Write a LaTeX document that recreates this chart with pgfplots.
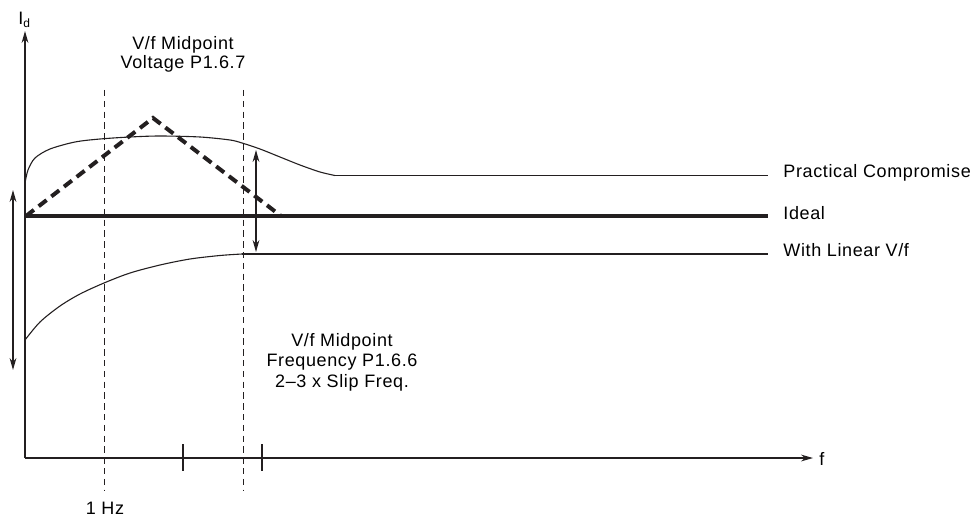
\documentclass[border=0pt]{standalone}
\usepackage{fontspec}
\setmainfont[LetterSpace=3.5]{Liberation Sans}
\usepackage{pgfplots}
\pgfplotsset{compat=1.18}
\usetikzlibrary{arrows.meta}
\definecolor{ink}{HTML}{231F20}
\begin{document}
\begin{tikzpicture}
\begin{axis}[hide axis, scale only axis, width=489pt, height=259pt,
  xmin=0, xmax=978, ymin=0, ymax=518, y dir=reverse, clip=false,
  every axis plot/.append style={color=ink},
  font=\fontsize{9}{10.3}\selectfont]
\draw[draw=none] (rel axis cs:0,0) rectangle (rel axis cs:1,1);
% axes
\addplot[line width=0.6pt, -{Stealth[length=6pt,width=3.4pt]}] coordinates {(25,458) (25,31)};
\addplot[line width=0.6pt, -{Stealth[length=6pt,width=3.4pt]}] coordinates {(25,458) (813,458)};
% ticks on x axis
\addplot[line width=0.6pt] coordinates {(183,444) (183,471)};
\addplot[line width=0.6pt] coordinates {(262,444) (262,471)};
% dashed verticals
\addplot[line width=0.5pt, dash pattern=on 3.2pt off 2.2pt] coordinates {(104,90) (104,491)};
\addplot[line width=0.5pt, dash pattern=on 3.2pt off 2.2pt] coordinates {(243,90) (243,491)};
% ideal
\addplot[line width=2.3pt] coordinates {(25,216) (768,216)};
% triangle (dashed)
\addplot[line width=2pt, dash pattern=on 5pt off 3pt] coordinates {(26,216) (153,118) (281,216)};
% practical compromise
\addplot[line width=0.55pt, smooth] coordinates {
(25,183) (28,170) (35,158) (50,149) (75,142) (100,139) (130,137) (160,136)
(200,137) (230,140) (242,143) (260,149) (280,157) (300,165) (320,172) (335,175.5)};
\addplot[line width=0.55pt] coordinates {(335,175.5) (768,175.5)};
% with linear V/f
\addplot[line width=0.55pt, smooth] coordinates {
(25,340) (40,322) (60,306) (80,294) (104,283) (130,273) (160,265) (190,259) (220,255.5) (242,254)};
\addplot[line width=0.55pt] coordinates {(242,254) (768,254)};
% double arrows
\addplot[line width=0.6pt, {Stealth[length=6pt,width=3.4pt]}-{Stealth[length=6pt,width=3.4pt]}] coordinates {(13,190) (13,370)};
\addplot[line width=0.6pt, {Stealth[length=6pt,width=3.4pt]}-{Stealth[length=6pt,width=3.4pt]}] coordinates {(256,150) (256,252)};
% texts
\node[anchor=base west, inner sep=0pt] at (axis cs:783,177) {Practical Compromise};
\node[anchor=base west, inner sep=0pt] at (axis cs:783,220) {Ideal};
\node[anchor=base west, inner sep=0pt] at (axis cs:783,256) {With Linear V/f};
\node[anchor=base west, inner sep=0pt] at (axis cs:819,465) {f};
\node[anchor=base west, inner sep=0pt] at (axis cs:18,25) {I\textsubscript{d}};
\node[anchor=base, inner sep=0pt] at (axis cs:105,514) {1 Hz};
\node[anchor=base, inner sep=0pt] at (axis cs:183,49.5) {V/f Midpoint};
\node[anchor=base, inner sep=0pt] at (axis cs:183,68.5) {Voltage P1.6.7};
\node[anchor=base, inner sep=0pt] at (axis cs:342,346) {V/f Midpoint};
\node[anchor=base, inner sep=0pt] at (axis cs:342,366.7) {Frequency P1.6.6};
\node[anchor=base, inner sep=0pt] at (axis cs:342,387.3) {2–3 x Slip Freq.};
\end{axis}
\end{tikzpicture}
\end{document}
